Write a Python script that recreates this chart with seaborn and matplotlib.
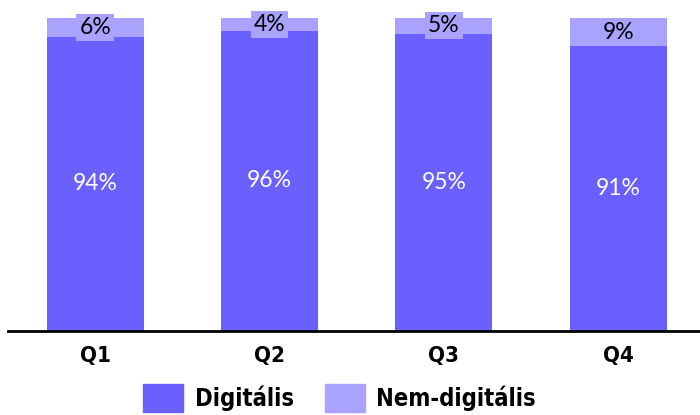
import pandas as pd
import matplotlib
matplotlib.use("Agg")
import matplotlib.pyplot as plt
import seaborn as sns
from matplotlib.patches import Patch

sns.set_theme(style="white")
plt.rcParams["font.family"] = ["DejaVu Sans"]

# Data
quarters = ["Q1", "Q2", "Q3", "Q4"]
digital = [94, 96, 95, 91]
non_digital = [6, 4, 5, 9]

dark = "#6a5fff"
light = "#a9a3ff"

df = pd.DataFrame({"quarter": quarters, "digital": digital, "non_digital": non_digital})
df["total"] = df["digital"] + df["non_digital"]

fig = plt.figure(figsize=(7, 4.15), dpi=100)
ax = fig.add_axes([8 / 700, 1 - 331 / 415, 1 - 8 / 700, (331 - 18) / 415])

sns.barplot(data=df, x="quarter", y="total", color=light, width=0.557,
            saturation=1, linewidth=0, ax=ax)
sns.barplot(data=df, x="quarter", y="digital", color=dark, width=0.557,
            saturation=1, linewidth=0, ax=ax)

for i, row in df.iterrows():
    ax.text(i, row["digital"] / 2, f"{row['digital']}%", ha="center", va="center",
            color="white", fontsize=16.5, family="Lato")
    ax.text(i, row["digital"] + row["non_digital"] / 2, f"{row['non_digital']}%",
            ha="center", va="center", color="black", fontsize=16.5, family="Lato",
            bbox=dict(facecolor=light, edgecolor="none", pad=2.2))

ax.set_ylim(0, 100)
ax.set_xlim(-0.5, 3.47)
ax.set_xlabel("")
ax.set_ylabel("")
ax.set_yticks([])
for s in ["top", "right", "left"]:
    ax.spines[s].set_visible(False)
ax.spines["bottom"].set_color("black")
ax.spines["bottom"].set_linewidth(2)
ax.tick_params(axis="x", length=0, pad=11, colors="black")
for lbl in ax.get_xticklabels():
    lbl.set_fontweight("bold")
    lbl.set_fontsize(16)
    lbl.set_fontstretch("condensed")

handles = [Patch(color=dark, label="Digitális"), Patch(color=light, label="Nem-digitális")]
leg = fig.legend(handles=handles, loc="lower center", ncol=2, frameon=False,
                 bbox_to_anchor=(0.485, -0.045),
                 prop={"weight": "bold", "size": 17, "stretch": "condensed"},
                 handlelength=1.7, handleheight=1.45, columnspacing=1.3, handletextpad=0.5)
for t in leg.get_texts():
    t.set_color("black")

fig.savefig("out.png", dpi=100)
